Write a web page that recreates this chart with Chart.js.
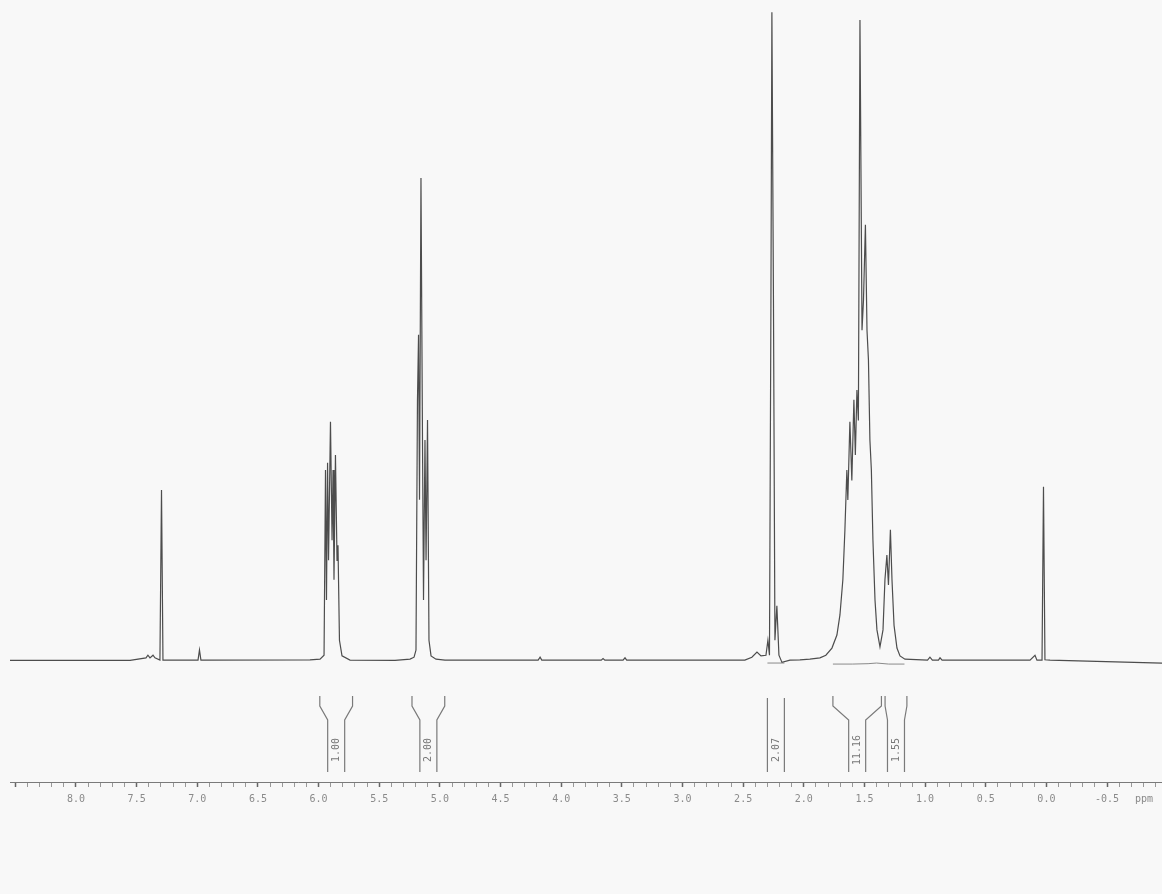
<!DOCTYPE html>
<html>
<head>
<meta charset="utf-8">
<script src="https://cdn.jsdelivr.net/npm/chart.js@4"></script>
<style>
  html, body { margin: 0; padding: 0; background: #f8f8f8; }
  canvas { display: block; }
</style>
</head>
<body>
<canvas id="c" width="1162" height="894"></canvas>
<script>
// Chemical shift (ppm) and intensity (baseline = 0, plot top = 100)
const ppm = [
  8.544, 7.554, 7.423, 7.407, 7.390, 7.365, 7.349, 7.308, 7.295, 7.283, 7.258,
  6.994, 6.982, 6.970,
  6.071, 5.988, 5.955, 5.943, 5.935, 5.926, 5.918, 5.902, 5.889, 5.881, 5.873, 5.861, 5.848, 5.840, 5.828, 5.807, 5.741,
  5.370, 5.246, 5.213, 5.197, 5.185, 5.176, 5.168, 5.156, 5.143, 5.135, 5.123, 5.114, 5.102, 5.090, 5.073, 5.032, 4.958,
  4.190, 4.174, 4.160, 3.670, 3.655, 3.640, 3.490, 3.474, 3.460,
  2.486, 2.428, 2.386, 2.353, 2.312, 2.296, 2.283, 2.271, 2.263, 2.250, 2.238, 2.222, 2.205, 2.180, 2.114, 2.032, 1.950,
  1.867, 1.818, 1.768, 1.727, 1.702, 1.678, 1.661, 1.645, 1.637, 1.620, 1.604, 1.587, 1.575, 1.562, 1.550,
  1.537, 1.520, 1.508, 1.492, 1.479, 1.467, 1.455, 1.443, 1.430, 1.413, 1.397, 1.372, 1.347, 1.331, 1.315,
  1.302, 1.286, 1.273, 1.256, 1.232, 1.207, 1.166,
  0.980, 0.960, 0.940, 0.890, 0.877, 0.860,
  0.135, 0.094, 0.078, 0.036, 0.024, 0.012, -0.030, -0.953
];
const intensity = [
  0.1, 0.1, 0.5, 0.9, 0.5, 0.9, 0.5, 0.15, 26.3, 0.15, 0.15,
  0.15, 1.7, 0.15,
  0.2, 0.3, 0.9, 29.4, 9.4, 30.5, 15.5, 36.8, 18.6, 29.4, 12.5, 31.7, 15.5, 17.8, 3.2, 0.8, 0.15,
  0.1, 0.3, 0.6, 1.7, 40.0, 50.2, 24.8, 74.3, 32.5, 9.4, 34.0, 15.5, 37.1, 3.2, 0.8, 0.3, 0.15,
  0.15, 0.6, 0.15, 0.15, 0.4, 0.15, 0.15, 0.5, 0.15,
  0.15, 0.6, 1.4, 0.8, 0.9, 3.2, 0.9, 55.0, 99.8, 55.0, 3.2, 8.5, 0.9, -0.2, 0.15, 0.2, 0.3,
  0.5, 0.9, 2.0, 4.0, 7.1, 12.5, 20.2, 29.4, 24.8, 36.8, 27.8, 40.2, 31.7, 41.7, 37.0,
  98.6, 50.9, 55.5, 67.1, 50.9, 46.3, 34.0, 29.4, 18.6, 9.4, 4.8, 2.2, 4.8, 12.5, 16.3,
  11.7, 20.2, 12.5, 5.5, 2.0, 0.8, 0.3,
  0.15, 0.6, 0.15, 0.15, 0.5, 0.15,
  0.15, 0.9, 0.15, 0.15, 26.8, 0.2, 0.15, -0.3
];

// Integral traces drawn under the multiplets
const integralTracePpmA = [2.30, 2.16];
const integralTraceValA = [-0.3, -0.3];
const integralTracePpmB = [1.76, 1.60, 1.47, 1.40, 1.30, 1.17];
const integralTraceValB = [-0.46, -0.46, -0.40, -0.30, -0.46, -0.46];

// Integration regions and values
const integralFrom = [5.99, 5.23, 2.30, 1.76, 1.33];
const integralTo   = [5.72, 4.96, 2.16, 1.36, 1.15];
const integralLabels = ['1.00', '2.00', '2.07', '11.16', '1.55'];

// Axis
const axisMin = -0.953;
const axisMax = 8.544;
const tickStep = 0.1;
const labelMax = 8.0;
const axisUnit = 'ppm';

const spectrum = ppm.map((p, i) => ({ x: p, y: intensity[i] }));
const traceA = integralTracePpmA.map((p, i) => ({ x: p, y: integralTraceValA[i] }));
const traceB = integralTracePpmB.map((p, i) => ({ x: p, y: integralTraceValB[i] }));

const isMajor = (v) => Math.abs(v * 2 - Math.round(v * 2)) < 1e-6;

const bgPlugin = {
  id: 'bg',
  beforeDraw(chart) {
    const ctx = chart.ctx;
    ctx.save();
    ctx.fillStyle = '#f8f8f8';
    ctx.fillRect(0, 0, chart.width, chart.height);
    ctx.restore();
  }
};

const integralPlugin = {
  id: 'integrals',
  afterDraw(chart) {
    const ctx = chart.ctx;
    const xs = chart.scales.x;
    const bottom = chart.chartArea.bottom;
    const yTop = bottom - 86, yKink1 = bottom - 76, yKink2 = bottom - 62, yBot = bottom - 10;
    ctx.save();
    ctx.strokeStyle = '#7a7a7a';
    ctx.lineWidth = 1.2;
    integralFrom.forEach((from, i) => {
      const xl = xs.getPixelForValue(from);
      const xr = xs.getPixelForValue(integralTo[i]);
      const c = (xl + xr) / 2;
      const h = Math.min(8.5, (xr - xl) / 2);
      ctx.beginPath();
      if ((xr - xl) / 2 <= 9) {
        ctx.moveTo(xl, yTop + 2); ctx.lineTo(xl, yBot);
        ctx.moveTo(xr, yTop + 2); ctx.lineTo(xr, yBot);
      } else {
        ctx.moveTo(xl, yTop); ctx.lineTo(xl, yKink1); ctx.lineTo(c - h, yKink2); ctx.lineTo(c - h, yBot);
        ctx.moveTo(xr, yTop); ctx.lineTo(xr, yKink1); ctx.lineTo(c + h, yKink2); ctx.lineTo(c + h, yBot);
      }
      ctx.stroke();
      ctx.save();
      ctx.translate(c + 0.5, (yKink2 + yBot) / 2 + 4);
      ctx.rotate(-Math.PI / 2);
      ctx.fillStyle = '#777';
      ctx.font = '10px "DejaVu Sans Mono"';
      ctx.textAlign = 'center';
      ctx.textBaseline = 'middle';
      ctx.fillText(integralLabels[i], 0, 0);
      ctx.restore();
    });
    // unit label
    ctx.fillStyle = '#8a8a8a';
    ctx.font = '10px "DejaVu Sans Mono"';
    ctx.textAlign = 'left';
    ctx.textBaseline = 'middle';
    ctx.fillText(axisUnit, xs.getPixelForValue(axisMin) - 27, bottom + 17);
    ctx.restore();
  }
};

new Chart(document.getElementById('c'), {
  type: 'scatter',
  data: {
    datasets: [
      { data: spectrum, showLine: true, borderColor: '#4d4d4d', borderWidth: 1.2, pointRadius: 0, tension: 0 },
      { data: traceA, showLine: true, borderColor: '#8a8a8a', borderWidth: 1, pointRadius: 0, tension: 0 },
      { data: traceB, showLine: true, borderColor: '#8a8a8a', borderWidth: 1, pointRadius: 0, tension: 0 }
    ]
  },
  options: {
    responsive: false,
    animation: false,
    devicePixelRatio: 1,
    layout: { padding: { left: 10, top: 11, right: 0, bottom: 0 } },
    plugins: { legend: { display: false }, tooltip: { enabled: false } },
    scales: {
      x: {
        type: 'linear',
        reverse: true,
        min: axisMin,
        max: axisMax,
        afterBuildTicks(scale) {
          const t = [];
          for (let k = Math.ceil(axisMin / tickStep); k <= Math.floor(axisMax / tickStep); k++) {
            t.push({ value: Math.round(k * tickStep * 10) / 10 });
          }
          scale.ticks = t;
        },
        afterFit(scale) { scale.height = 112; },
        border: { display: true, color: '#7a7a7a', width: 1 },
        grid: {
          drawOnChartArea: false,
          drawTicks: true,
          tickLength: 5,
          tickColor: (ctx) => (ctx.tick && isMajor(ctx.tick.value) ? '#666' : '#999'),
          tickWidth: (ctx) => (ctx.tick && isMajor(ctx.tick.value) ? 1.5 : 1)
        },
        ticks: {
          autoSkip: false,
          maxRotation: 0,
          minRotation: 0,
          padding: 6,
          color: '#8a8a8a',
          font: { family: '"DejaVu Sans Mono"', size: 10 },
          callback(value) {
            return isMajor(value) && value <= labelMax ? value.toFixed(1) : '';
          }
        }
      },
      y: {
        display: false,
        min: -18.6,
        max: 100
      }
    }
  },
  plugins: [bgPlugin, integralPlugin]
});
</script>
</body>
</html>
